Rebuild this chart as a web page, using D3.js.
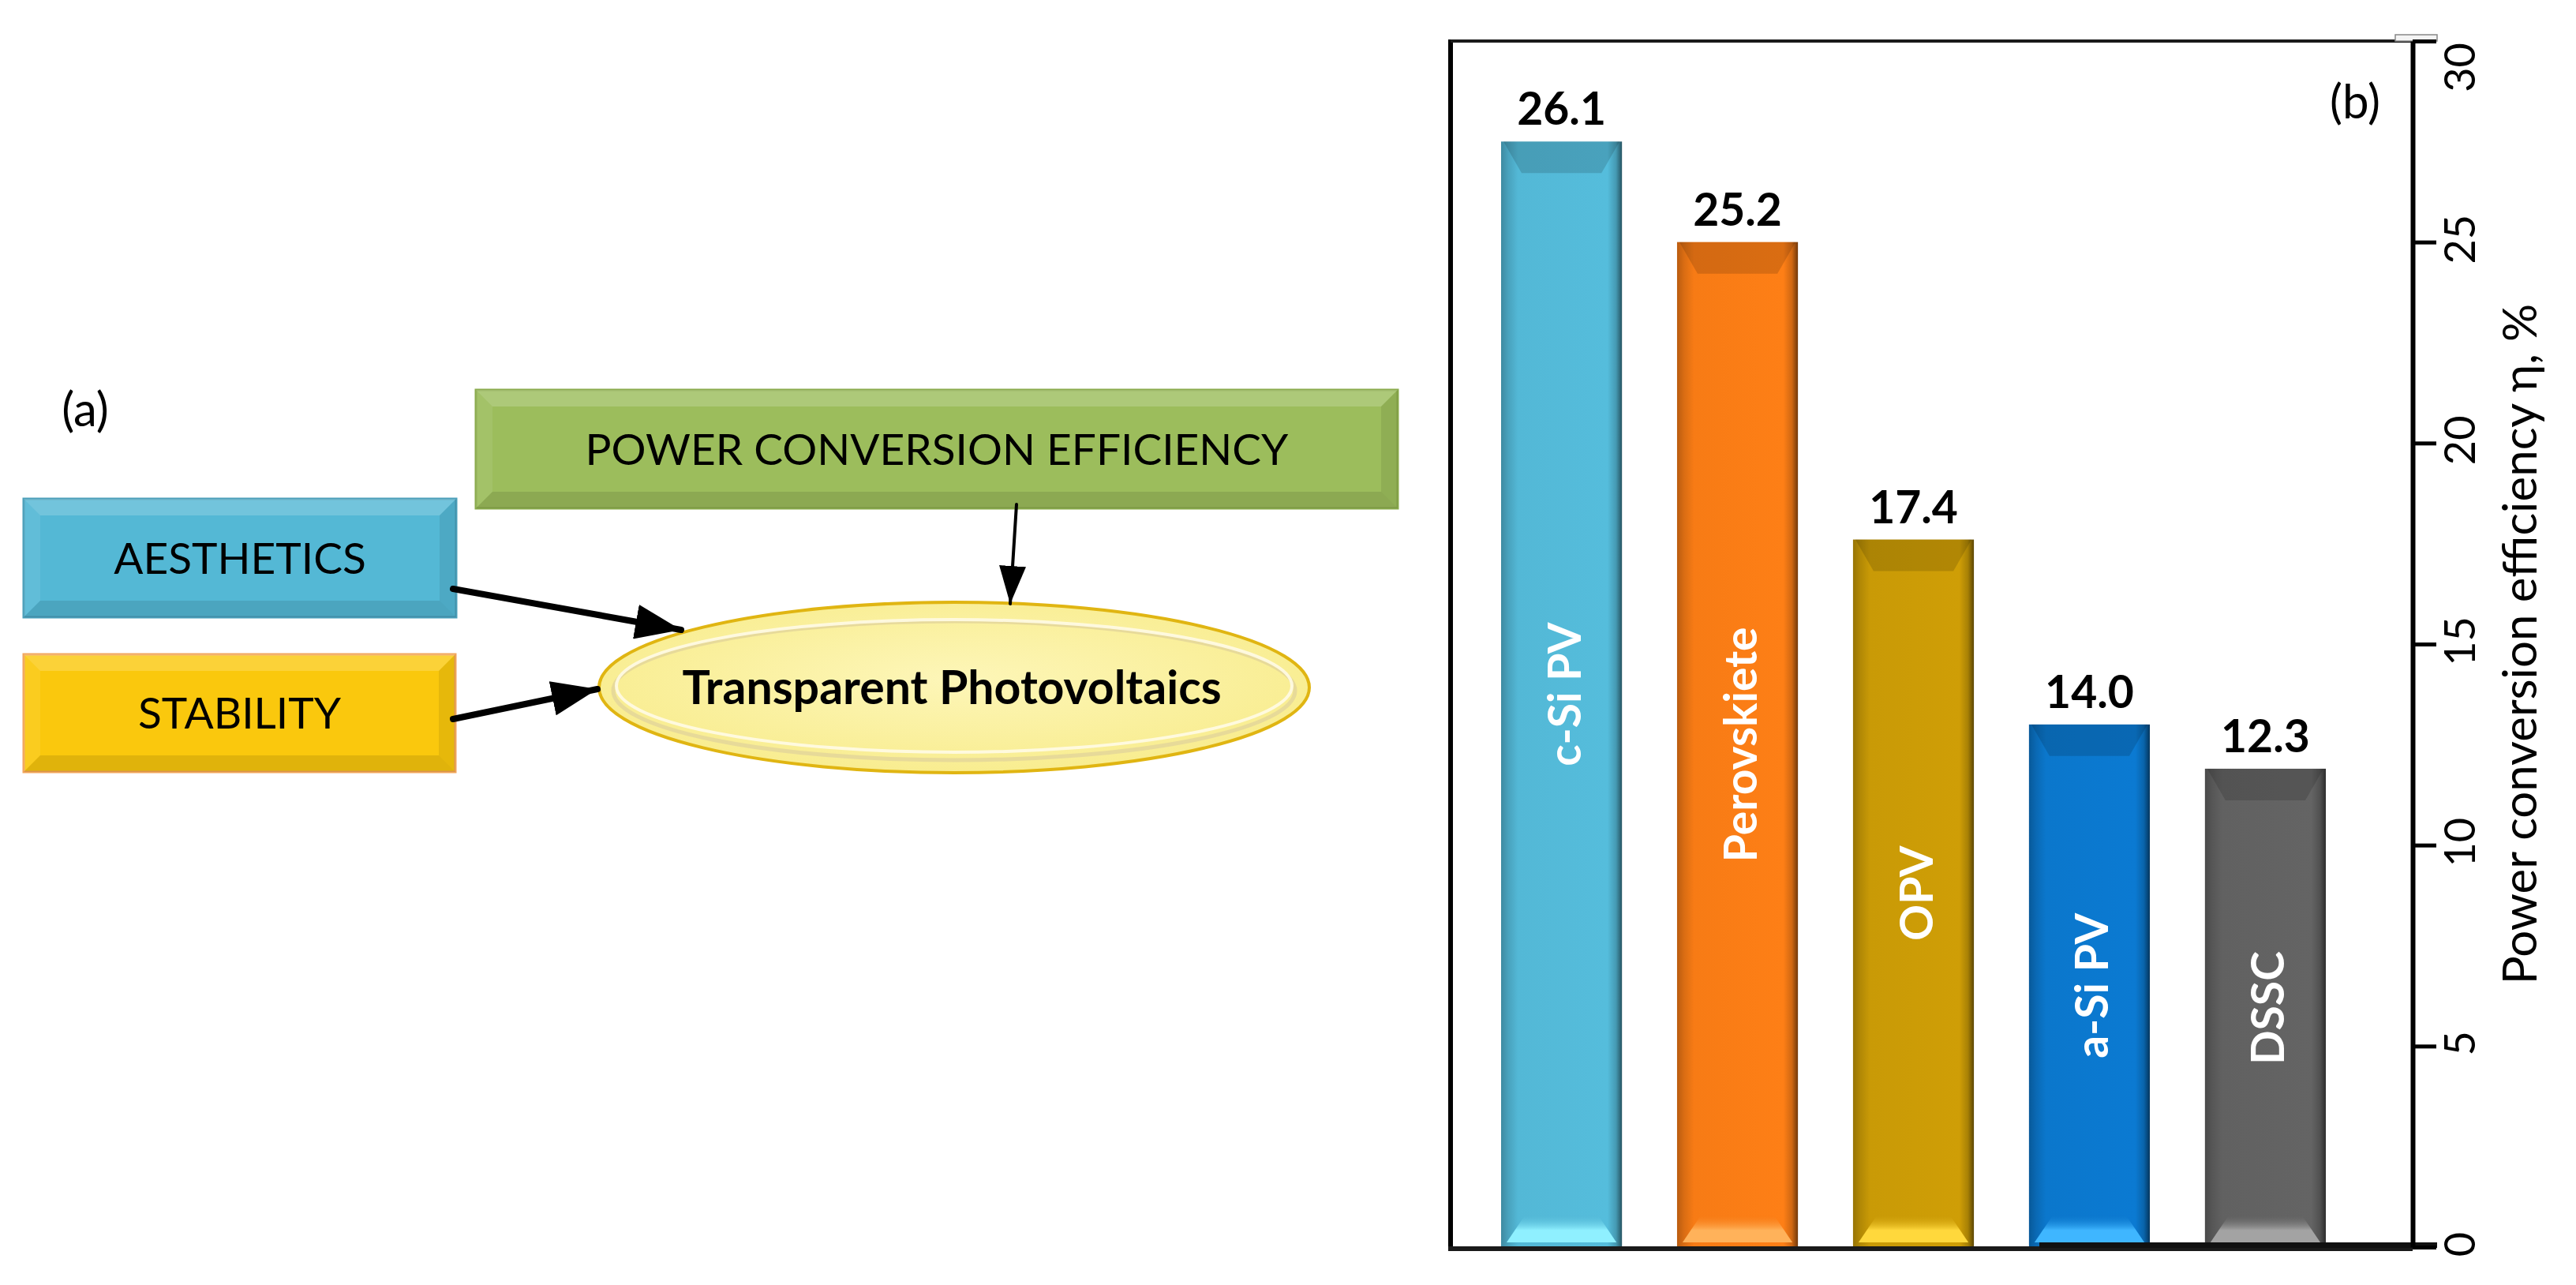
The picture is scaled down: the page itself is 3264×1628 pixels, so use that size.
<!DOCTYPE html>
<html>
<head>
<meta charset="utf-8">
<script src="https://cdn.jsdelivr.net/npm/d3@7"></script>
<style>
  body { margin: 0; background: #fff; }
  svg { display: block; font-family: Lato, "Noto Sans", sans-serif; }
</style>
</head>
<body>
<svg id="chart" width="3264" height="1628"></svg>
<script>
const W = 3264;
const H = 1628;

// panel (b) data
const categories = ["c-Si PV", "Perovskiete", "OPV", "a-Si PV", "DSSC"];
const barHeights = [27.5, 25.0, 17.6, 13.0, 11.9];   // heights as drawn on the axis
const valueLabels = ["26.1", "25.2", "17.4", "14.0", "12.3"];
const barColors = ["#53b8d6", "#f77b15", "#c99a06", "#0b77cc", "#616161"];
const barLights = ["#8ff0ff", "#ffb25a", "#ffd83c", "#3fb6ff", "#a3a3a3"];
const yTicks = [0, 5, 10, 15, 20, 25, 30];
const yTitle = "Power conversion efficiency \u03b7, %";

// panel (a) schematic
const boxLabels = ["POWER CONVERSION EFFICIENCY", "AESTHETICS", "STABILITY"];
const boxColors = ["#9cbd5c", "#54b8d5", "#fac80d"];
const boxBorders = ["#8aab4c", "#4a9fba", "#f2a65a"];
const hubLabel = "Transparent Photovoltaics";

const svg = d3.select("#chart");
svg.append("rect").attr("width", W).attr("height", H).attr("fill", "#fff");
const defs = svg.append("defs");

// ---------- panel (a) ----------
const layout = {
  boxes: [
    {x: 603, y: 494, w: 1168, h: 150},
    {x: 30, y: 632, w: 548, h: 150},
    {x: 30, y: 829, w: 547, h: 149}
  ],
  hub: {cx: 1209, cy: 871, rx: 450, ry: 108},
  arrows: [
    {from: [1288, 639], to: [1280, 765], w: 4, head: "headSmall"},
    {from: [574, 746], to: [863, 798], w: 8, head: "headBig"},
    {from: [574, 911], to: [757, 873], w: 8, head: "headBig"}
  ]
};

function addHead(id, len, wid) {
  defs.append("marker")
    .attr("id", id)
    .attr("markerUnits", "userSpaceOnUse")
    .attr("markerWidth", len)
    .attr("markerHeight", wid)
    .attr("refX", len)
    .attr("refY", wid / 2)
    .attr("orient", "auto")
    .append("path")
    .attr("d", `M0,0 L${len},${wid / 2} L0,${wid} Z`)
    .attr("fill", "#000");
}
addHead("headBig", 58, 44);
addHead("headSmall", 48, 34);

const ga = svg.append("g");

// bevelled boxes
layout.boxes.forEach((b, i) => {
  const g = ga.append("g");
  const inset = 21;
  g.append("rect")
    .attr("x", b.x).attr("y", b.y).attr("width", b.w).attr("height", b.h)
    .attr("fill", boxColors[i])
    .attr("stroke", boxBorders[i]).attr("stroke-width", 3);
  const x0 = b.x, x1 = b.x + b.w, y0 = b.y, y1 = b.y + b.h;
  const bevel = [
    {pts: [[x0, y0], [x1, y0], [x1 - inset, y0 + inset], [x0 + inset, y0 + inset]], c: "#fff", o: 0.18},
    {pts: [[x0, y0], [x0 + inset, y0 + inset], [x0 + inset, y1 - inset], [x0, y1]], c: "#fff", o: 0.08},
    {pts: [[x1, y0], [x1, y1], [x1 - inset, y1 - inset], [x1 - inset, y0 + inset]], c: "#000", o: 0.08},
    {pts: [[x0, y1], [x0 + inset, y1 - inset], [x1 - inset, y1 - inset], [x1, y1]], c: "#000", o: 0.10}
  ];
  bevel.forEach(p => {
    g.append("polygon")
      .attr("points", p.pts.map(d => d.join(",")).join(" "))
      .attr("fill", p.c).attr("fill-opacity", p.o);
  });
  g.append("text")
    .attr("x", b.x + b.w / 2)
    .attr("y", b.y + b.h / 2)
    .attr("dy", "0.36em")
    .attr("text-anchor", "middle")
    .attr("font-size", 55)
    .attr("fill", "#000")
    .text(boxLabels[i]);
});

// hub ellipse
const hub = layout.hub;
const hubGrad = defs.append("radialGradient").attr("id", "hubGrad")
  .attr("cx", "50%").attr("cy", "45%").attr("r", "60%");
hubGrad.append("stop").attr("offset", "0%").attr("stop-color", "#fdf6b8");
hubGrad.append("stop").attr("offset", "100%").attr("stop-color", "#f8ec8c");
ga.append("ellipse")
  .attr("cx", hub.cx).attr("cy", hub.cy).attr("rx", hub.rx).attr("ry", hub.ry)
  .attr("fill", "url(#hubGrad)")
  .attr("stroke", "#e0b512").attr("stroke-width", 4);
ga.append("ellipse")
  .attr("cx", hub.cx).attr("cy", hub.cy + 4).attr("rx", hub.rx - 18).attr("ry", hub.ry - 20)
  .attr("fill", "none")
  .attr("stroke", "#e2d49a").attr("stroke-width", 5).attr("stroke-opacity", 0.8);
ga.append("ellipse")
  .attr("cx", hub.cx).attr("cy", hub.cy - 2).attr("rx", hub.rx - 22).attr("ry", hub.ry - 24)
  .attr("fill", "none")
  .attr("stroke", "#fffbe6").attr("stroke-width", 4).attr("stroke-opacity", 0.9);
ga.append("text")
  .attr("x", hub.cx - 3)
  .attr("y", hub.cy)
  .attr("dy", "0.36em")
  .attr("text-anchor", "middle")
  .attr("font-size", 59)
  .attr("font-weight", "bold")
  .text(hubLabel);

// arrows
layout.arrows.forEach(a => {
  ga.append("line")
    .attr("x1", a.from[0]).attr("y1", a.from[1])
    .attr("x2", a.to[0]).attr("y2", a.to[1])
    .attr("stroke", "#000").attr("stroke-width", a.w)
    .attr("stroke-linecap", "round")
    .attr("marker-end", `url(#${a.head})`);
});

ga.append("text")
  .attr("x", 108).attr("y", 540)
  .attr("text-anchor", "middle")
  .attr("font-size", 60)
  .text("(a)");

// ---------- panel (b) ----------
const plotLeft = 1838, plotRight = 3057, plotTop = 52, plotBottom = 1580;

const y = d3.scaleLinear().domain([0, 30]).range([plotBottom, plotTop]);
const x = d3.scaleBand().domain(categories).range([1902, 2947]).paddingInner(0.313);

const gb = svg.append("g");

// gradients per bar
categories.forEach((c, i) => {
  const base = d3.color(barColors[i]);
  const hg = defs.append("linearGradient").attr("id", "barH" + i)
    .attr("x1", "0%").attr("x2", "100%").attr("y1", "0%").attr("y2", "0%");
  [[0, base.darker(0.8)], [0.06, base.darker(0.35)], [0.14, base],
   [0.88, base.brighter(0.08)], [0.95, base.darker(0.5)], [1, base.darker(2.2)]]
    .forEach(s => hg.append("stop").attr("offset", s[0]).attr("stop-color", s[1]));
  const vg = defs.append("linearGradient").attr("id", "barL" + i)
    .attr("x1", "0%").attr("x2", "0%").attr("y1", "0%").attr("y2", "100%");
  vg.append("stop").attr("offset", 0).attr("stop-color", barColors[i]).attr("stop-opacity", 0.2);
  vg.append("stop").attr("offset", 0.55).attr("stop-color", barLights[i]);
  vg.append("stop").attr("offset", 1).attr("stop-color", barLights[i]);
});

const bars = gb.selectAll("g.bar")
  .data(categories)
  .enter()
  .append("g")
  .attr("class", "bar");

bars.append("rect")
  .attr("x", d => x(d))
  .attr("y", (d, i) => y(barHeights[i]))
  .attr("width", x.bandwidth())
  .attr("height", (d, i) => y(0) - y(barHeights[i]))
  .attr("fill", (d, i) => `url(#barH${i})`);

// top bevel (darker)
bars.append("polygon")
  .attr("points", (d, i) => {
    const x0 = x(d), x1 = x(d) + x.bandwidth(), t = y(barHeights[i]);
    return [[x0 + 3, t], [x1 - 3, t], [x1 - 26, t + 40], [x0 + 26, t + 40]].map(p => p.join(",")).join(" ");
  })
  .attr("fill", "#000").attr("fill-opacity", 0.14);

// bottom bevel (lighter)
bars.append("polygon")
  .attr("points", d => {
    const x0 = x(d), x1 = x(d) + x.bandwidth(), b = y(0);
    return [[x0 + 30, b - 40], [x1 - 30, b - 40], [x1 - 7, b - 6], [x0 + 7, b - 6]].map(p => p.join(",")).join(" ");
  })
  .attr("fill", (d, i) => `url(#barL${i})`);

// category labels inside bars
bars.append("text")
  .attr("transform", (d, i) => {
    const cx = x(d) + x.bandwidth() / 2 + 24;
    const cy = (y(barHeights[i]) + y(0)) / 2;
    return `translate(${cx},${cy}) rotate(-90)`;
  })
  .attr("text-anchor", "middle")
  .attr("font-size", 57)
  .attr("font-weight", "bold")
  .attr("fill", "#fff")
  .text(d => d);

// value labels above bars
bars.append("text")
  .attr("x", d => x(d) + x.bandwidth() / 2)
  .attr("y", (d, i) => y(barHeights[i]) - 21)
  .attr("text-anchor", "middle")
  .attr("font-size", 57)
  .attr("font-weight", "bold")
  .attr("fill", "#000")
  .text((d, i) => valueLabels[i]);

// frame
gb.append("line").attr("x1", plotLeft).attr("x2", plotLeft).attr("y1", plotTop - 2).attr("y2", plotBottom + 3)
  .attr("stroke", "#000").attr("stroke-width", 6);
gb.append("line").attr("x1", plotLeft).attr("x2", plotRight).attr("y1", plotTop).attr("y2", plotTop)
  .attr("stroke", "#1a1a1a").attr("stroke-width", 4);
gb.append("line").attr("x1", plotLeft - 3).attr("x2", plotRight).attr("y1", plotBottom + 2).attr("y2", plotBottom + 2)
  .attr("stroke", "#1a1a1a").attr("stroke-width", 6);
gb.append("rect").attr("x", 2584).attr("y", plotBottom - 6).attr("width", 504).attr("height", 7)
  .attr("fill", "#111");
gb.append("rect").attr("x", 3035).attr("y", 44).attr("width", 53).attr("height", 8)
  .attr("fill", "#f4f4f4").attr("stroke", "#888").attr("stroke-width", 1.5);

// right axis
const axis = gb.append("g")
  .attr("transform", `translate(${plotRight},0)`)
  .call(d3.axisRight(y).tickValues(yTicks).tickSize(30).tickSizeOuter(0));
axis.select(".domain").attr("stroke", "#000").attr("stroke-width", 6);
axis.selectAll(".tick line").attr("stroke", "#000").attr("stroke-width", 5);
axis.selectAll(".tick text")
  .attr("x", null).attr("dy", null)
  // the top label sits just under the frame, as in the original
  .attr("transform", d => `translate(79,${d === 30 ? 33 : -4}) rotate(-90)`)
  .attr("text-anchor", "middle")
  .attr("font-family", "Lato, 'Noto Sans', sans-serif")
  .attr("font-size", 54)
  .attr("fill", "#000");

gb.append("text")
  .attr("transform", `translate(3214,${(plotTop + plotBottom) / 2}) rotate(-90)`)
  .attr("text-anchor", "middle")
  .attr("font-size", 60)
  .attr("fill", "#000")
  .text(yTitle);

gb.append("text")
  .attr("x", 2984).attr("y", 150)
  .attr("text-anchor", "middle")
  .attr("font-size", 60)
  .text("(b)");
</script>
</body>
</html>
